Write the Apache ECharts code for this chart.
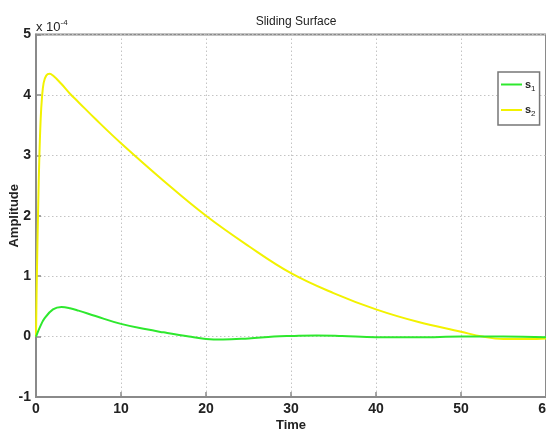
<!DOCTYPE html>
<html>
<head>
<meta charset="utf-8">
<script src="https://cdn.jsdelivr.net/npm/echarts@6/dist/echarts.min.js"></script>
<style>html,body{margin:0;padding:0;background:#fff}#c{width:546px;height:435px}</style>
</head>
<body>
<div id="c"></div>
<script>
// values in units of 1e-4
var tS2 = [0, 0.1, 0.25, 0.4, 0.55, 0.7, 0.9, 1.2, 1.6, 2, 3, 4, 5, 7, 10, 15, 20, 25, 30, 35, 40, 45, 50, 52.5, 55, 58, 60];
var s2  = [0, 1.0, 2.1, 3.0, 3.6, 3.95, 4.2, 4.32, 4.35, 4.32, 4.18, 4.02, 3.88, 3.6, 3.2, 2.58, 2.0, 1.5, 1.05, 0.72, 0.45, 0.24, 0.08, 0.0, -0.04, -0.04, -0.03];
var tS1 = [0, 0.5, 1, 2, 3, 4, 5, 7, 10, 13, 15, 18, 20, 22, 25, 28, 30, 33, 36, 40, 45, 50, 55, 60];
var s1  = [0, 0.17, 0.3, 0.45, 0.49, 0.47, 0.43, 0.34, 0.21, 0.12, 0.07, 0.0, -0.04, -0.05, -0.03, 0.0, 0.01, 0.02, 0.01, -0.01, -0.01, 0.0, 0.0, -0.01];
var xTicks = [0, 10, 20, 30, 40, 50, 60];
var yTicks = [-1, 0, 1, 2, 3, 4, 5];

function pairs(t, v) { return t.map(function (x, i) { return [x, v[i]]; }); }

var font = "'Liberation Sans Narrow','Liberation Sans',Arial,sans-serif";
var chart = echarts.init(document.getElementById('c'), null, {renderer: 'canvas'});
chart.setOption({
  animation: false,
  backgroundColor: '#fff',
  title: {
    text: 'Sliding Surface', left: 291, top: 11, textAlign: 'center',
    textStyle: {fontSize: 12, fontWeight: 'normal', color: '#222', fontFamily: font}
  },
  grid: {left: 36, top: 34.5, right: 0, bottom: 38, containLabel: false, outerBoundsMode: 'none',
         show: true, borderColor: '#8a8a8a', borderWidth: 2, backgroundColor: '#fff'},
  xAxis: {
    type: 'value', min: xTicks[0], max: xTicks[xTicks.length - 1], interval: 10,
    name: 'Time', nameLocation: 'middle', nameGap: 22, nameMoveOverlap: false,
    nameTextStyle: {fontSize: 13, color: '#222', fontFamily: font, fontWeight: 'bold'},
    axisLine: {show: true, onZero: false, lineStyle: {color: '#8a8a8a', width: 2}},
    axisTick: {show: true, inside: true, length: 5, lineStyle: {color: '#8a8a8a', width: 1.5}},
    axisLabel: {fontSize: 14, color: '#222', fontFamily: font, fontWeight: 'bold', margin: 5},
    splitLine: {show: true, lineStyle: {color: '#c4c4c4', type: [1.5, 2.5], width: 1}}
  },
  yAxis: {
    type: 'value', min: yTicks[0], max: yTicks[yTicks.length - 1], interval: 1,
    name: 'Amplitude', nameLocation: 'middle', nameGap: 15, nameMoveOverlap: false,
    nameTextStyle: {fontSize: 13, color: '#222', fontFamily: font, fontWeight: 'bold'},
    axisLine: {show: true, onZero: false, lineStyle: {color: '#8a8a8a', width: 2}},
    axisTick: {show: true, inside: true, length: 5, lineStyle: {color: '#8a8a8a', width: 1.5}},
    axisLabel: {fontSize: 14, color: '#222', fontFamily: font, fontWeight: 'bold', margin: 5},
    splitLine: {show: true, lineStyle: {color: '#c4c4c4', type: [1.5, 2.5], width: 1}}
  },
  legend: {
    orient: 'vertical', left: 498, top: 72,
    borderColor: '#777', borderWidth: 1.5, backgroundColor: '#fff',
    padding: [7, 4, 7, 3], itemGap: 12, itemWidth: 21, itemHeight: 2,
    icon: 'rect',
    data: ['s1', 's2'],
    formatter: function (n) { return '{a|s}{b|' + n.slice(1) + '}'; },
    textStyle: {
      color: '#222', fontFamily: font, padding: [0, 0, 0, -2],
      rich: {
        a: {fontSize: 11, fontWeight: 'bold', color: '#222', fontFamily: font},
        b: {fontSize: 8, color: '#222', fontFamily: font, padding: [8, 0, 0, 0]}
      }
    }
  },
  graphic: [{
    type: 'text', left: 36, top: 19,
    style: {
      text: '{x|x 10}{e|-4}', fill: '#222',
      rich: {
        x: {fontSize: 13, fontFamily: font, fill: '#222'},
        e: {fontSize: 8, fontFamily: font, fill: '#222', padding: [0, 0, 8, 0]}
      }
    }
  }],
  series: [
    {name: 's1', type: 'line', data: pairs(tS1, s1), smooth: 0.4, showSymbol: false,
     lineStyle: {color: '#2ee82e', width: 2}, itemStyle: {color: '#2ee82e'}, z: 3},
    {name: 's2', type: 'line', data: pairs(tS2, s2), smooth: 0.4, showSymbol: false,
     lineStyle: {color: '#f2f200', width: 2}, itemStyle: {color: '#f2f200'}, z: 2}
  ]
});
</script>
</body>
</html>
